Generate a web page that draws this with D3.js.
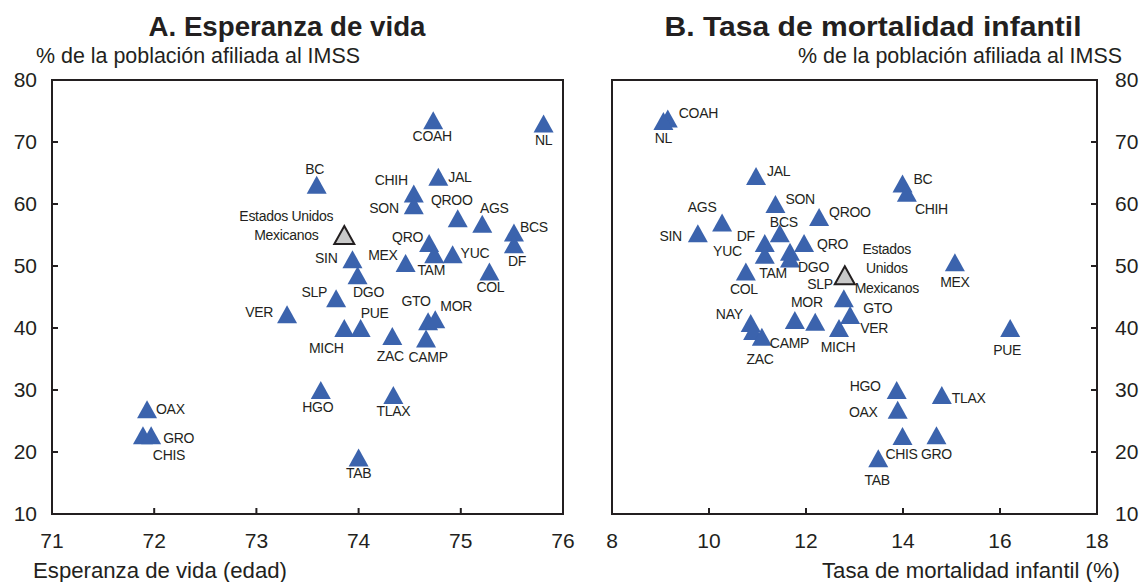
<!DOCTYPE html>
<html>
<head>
<meta charset="utf-8">
<script src="https://cdn.jsdelivr.net/npm/d3@7"></script>
<style>
  body { margin: 0; background: #fff; }
  text { font-family: "Liberation Sans", Arial, sans-serif; fill: #231f20; }
</style>
</head>
<body>
<svg id="chart" width="1139" height="582"></svg>
<script>
// Panel A: life expectancy vs % IMSS
const statesA = ["COAH","NL","BC","JAL","CHIH","SON","QROO","AGS","BCS","DF","QRO","TAM","YUC","MEX","SIN","DGO","COL","SLP","VER","MICH","PUE","GTO","MOR","ZAC","CAMP","HGO","TLAX","TAB","OAX","CHIS","GRO","EUM"]
const lifeExp = [74.73,75.81,73.59,74.78,74.54,74.54,74.97,75.21,75.52,75.52,74.69,74.74,74.92,74.46,73.94,73.99,75.28,73.78,73.30,73.86,74.02,74.68,74.75,74.33,74.66,73.63,74.34,74.00,71.93,71.89,71.97,73.86]
const imssA = [73.5,73.0,63.1,64.4,61.7,59.8,57.7,56.8,55.4,53.5,53.7,51.9,51.9,50.5,51.1,48.5,49.1,44.8,42.2,40.0,40.0,41.1,41.4,38.7,38.3,30.0,29.2,19.1,26.9,22.7,22.7,55.0]

// Panel B: infant mortality vs % IMSS
const statesB = ["COAH","NL","JAL","BC","CHIH","SON","QROO","AGS","SIN","BCS","DF","QRO","YUC","DGO","TAM","COL","MEX","SLP","MOR","GTO","VER","MICH","NAY","ZAC","CAMP","PUE","HGO","OAX","TLAX","CHIS","GRO","TAB","EUM"]
const mortality = [9.15,9.06,10.97,13.99,14.08,11.37,12.27,10.27,9.77,11.46,11.15,11.96,11.15,11.67,11.67,10.76,15.07,12.78,11.77,12.19,12.91,12.68,10.86,10.91,11.09,16.21,13.87,13.89,14.80,13.99,14.69,13.49,12.80]
const imssB = [73.8,73.4,64.5,63.3,61.8,60.0,57.9,57.0,55.3,55.3,53.7,53.7,51.8,52.3,51.2,49.1,50.6,44.8,41.3,41.0,42.1,40.0,40.8,39.5,38.6,40.0,30.0,26.8,29.2,22.6,22.7,19.0,48.5]

const xTicksA = [71,72,73,74,75,76]
const xTicksB = [8,10,12,14,16,18]
const yTicks = [10,20,30,40,50,60,70,80]

const nationalLabelA = ["Estados Unidos","Mexicanos"]
const nationalLabelB = ["Estados","Unidos","Mexicanos"]

// label placement: [dx, dy, anchor] from the marker centre
const labA = {
  COAH:[-1,16,"middle"], NL:[0,17,"middle"], BC:[-2,-16,"middle"], JAL:[10,0,"start"],
  CHIH:[-6,-13,"end"], SON:[-15,3,"end"], QROO:[-6,-18,"middle"], AGS:[12,-16,"middle"],
  BCS:[6,-5,"start"], DF:[3,17,"middle"], QRO:[-6,-6,"end"], TAM:[-3,16,"middle"],
  YUC:[8,-1,"start"], MEX:[-8,-8,"end"], SIN:[-15,-1,"end"], DGO:[11,17,"middle"],
  COL:[1,16,"middle"], SLP:[-9,-6,"end"], VER:[-14,-2,"end"], MICH:[-18,20,"middle"],
  PUE:[14,-15,"middle"], GTO:[-12,-20,"middle"], MOR:[21,-13,"middle"], ZAC:[-2,20,"middle"],
  CAMP:[2,19,"middle"], HGO:[-3,17,"middle"], TLAX:[0,16,"middle"], TAB:[0,16,"middle"],
  OAX:[9,0,"start"], GRO:[12,3,"start"], CHIS:[26,20,"middle"]
}
const labB = {
  COAH:[11,-5,"start"], NL:[0,17,"middle"], JAL:[11,-5,"start"], BC:[11,-4,"start"],
  CHIH:[8,16,"start"], SON:[10,-5,"start"], QROO:[10,-5,"start"], AGS:[-20,-16,"middle"],
  SIN:[-16,3,"end"], BCS:[4,-11,"middle"], DF:[-10,-7,"end"], QRO:[13,1,"start"],
  YUC:[-23,-4,"end"], DGO:[8,15,"start"], TAM:[-17,15,"middle"], COL:[-2,18,"middle"],
  MEX:[0,20,"middle"], SLP:[-11,-14,"end"], MOR:[12,-18,"middle"], GTO:[48,-14,"start"],
  VER:[10,13,"start"], MICH:[-1,19,"middle"], NAY:[-8,-9,"end"], ZAC:[7,28,"middle"],
  CAMP:[8,6,"start"], PUE:[-3,22,"middle"], HGO:[-16,-4,"end"], OAX:[-20,2,"end"],
  TLAX:[10,3,"start"], CHIS:[-1,18,"middle"], GRO:[0,19,"middle"], TAB:[-1,22,"middle"]
}

const svg = d3.select("#chart")
const ink = "#231f20"
const blue = "#3b63ad"

// triangle centred on its bounding box
const tri = (w, h) => `M0,${-h/2}L${w/2},${h/2}L${-w/2},${h/2}Z`

const y = d3.scaleLinear().domain([10, 80]).range([514, 80])

function panel(opts) {
  const x = d3.scaleLinear().domain(opts.xDomain).range(opts.xRange)
  const g = svg.append("g")
  const [x0, x1] = opts.xRange

  // frame
  g.append("rect")
    .attr("x", x0).attr("y", y(80))
    .attr("width", x1 - x0).attr("height", y(10) - y(80))
    .attr("fill", "none").attr("stroke", ink).attr("stroke-width", 2)

  // x ticks (inward)
  g.selectAll(".xt").data(opts.xTicks).join("line")
    .attr("x1", d => x(d)).attr("x2", d => x(d))
    .attr("y1", y(10)).attr("y2", y(10) - 6)
    .attr("stroke", ink).attr("stroke-width", 2)
  g.selectAll(".xl").data(opts.xTicks).join("text")
    .attr("x", d => x(d)).attr("y", y(10) + 34)
    .attr("text-anchor", "middle").attr("font-size", 21)
    .text(d => d)

  // y ticks (inward) on the chosen side
  const ax = opts.ySide === "left" ? x0 : x1
  const dir = opts.ySide === "left" ? 1 : -1
  g.selectAll(".yt").data(yTicks).join("line")
    .attr("x1", ax).attr("x2", ax + dir * 6)
    .attr("y1", d => y(d)).attr("y2", d => y(d))
    .attr("stroke", ink).attr("stroke-width", 2)
  g.selectAll(".yl").data(yTicks).join("text")
    .attr("x", opts.ySide === "left" ? ax - 15 : ax + 18)
    .attr("y", d => y(d)).attr("dy", "0.35em")
    .attr("text-anchor", opts.ySide === "left" ? "end" : "start")
    .attr("font-size", 21)
    .text(d => d)

  // titles
  g.append("text").attr("x", opts.titleX).attr("y", 36)
    .attr("text-anchor", "middle").attr("font-size", 27).attr("font-weight", "bold")
    .attr("textLength", opts.titleLen).attr("lengthAdjust", "spacingAndGlyphs")
    .text(opts.title)
  g.append("text").attr("x", opts.subX).attr("y", 63)
    .attr("text-anchor", opts.subAnchor).attr("font-size", 21.5)
    .attr("textLength", 324).attr("lengthAdjust", "spacingAndGlyphs")
    .text("% de la población afiliada al IMSS")
  g.append("text").attr("x", opts.axX).attr("y", 578)
    .attr("text-anchor", opts.subAnchor).attr("font-size", 21.5)
    .attr("textLength", opts.axLen).attr("lengthAdjust", "spacingAndGlyphs")
    .text(opts.axTitle)

  const pts = opts.states.map((s, i) => ({ s, x: opts.xs[i], y: opts.ys[i] }))

  // markers
  g.selectAll(".pt").data(pts).join("path")
    .attr("d", tri(20, 18))
    .attr("transform", d => `translate(${x(d.x)},${y(d.y)})`)
    .attr("fill", d => d.s === "EUM" ? "#c9c9c9" : blue)
    .attr("stroke", d => d.s === "EUM" ? ink : "none")
    .attr("stroke-width", 2)

  // labels
  pts.filter(d => d.s !== "EUM").forEach(d => {
    const p = opts.lab[d.s]
    g.append("text")
      .attr("x", x(d.x) + p[0]).attr("y", y(d.y) + p[1]).attr("dy", "0.35em")
      .attr("text-anchor", p[2]).attr("font-size", 14)
      .attr("letter-spacing", -0.3)
      .text(d.s)
  })

  // national label
  const n = pts.find(d => d.s === "EUM")
  opts.natLines.forEach((t, i) => {
    g.append("text")
      .attr("x", x(n.x) + opts.natDx).attr("y", y(n.y) + opts.natDy[i]).attr("dy", "0.35em")
      .attr("text-anchor", "middle").attr("font-size", 14).attr("letter-spacing", -0.3)
      .text(t)
  })
}

panel({
  xDomain: [71, 76], xRange: [52, 563], xTicks: xTicksA, ySide: "left",
  title: "A. Esperanza de vida", titleX: 287, titleLen: 277,
  subX: 36, subAnchor: "start",
  axX: 33, axTitle: "Esperanza de vida (edad)", axLen: 254,
  states: statesA, xs: lifeExp, ys: imssA, lab: labA,
  natLines: nationalLabelA, natDx: -58, natDy: [-19, 0]
})

panel({
  xDomain: [8, 18], xRange: [612, 1097], xTicks: xTicksB, ySide: "right",
  title: "B. Tasa de mortalidad infantil", titleX: 873, titleLen: 417,
  subX: 1122, subAnchor: "end",
  axX: 1120, axTitle: "Tasa de mortalidad infantil (%)", axLen: 298,
  states: statesB, xs: mortality, ys: imssB, lab: labB,
  natLines: nationalLabelB, natDx: 42, natDy: [-26, -7, 13]
})
</script>
</body>
</html>
